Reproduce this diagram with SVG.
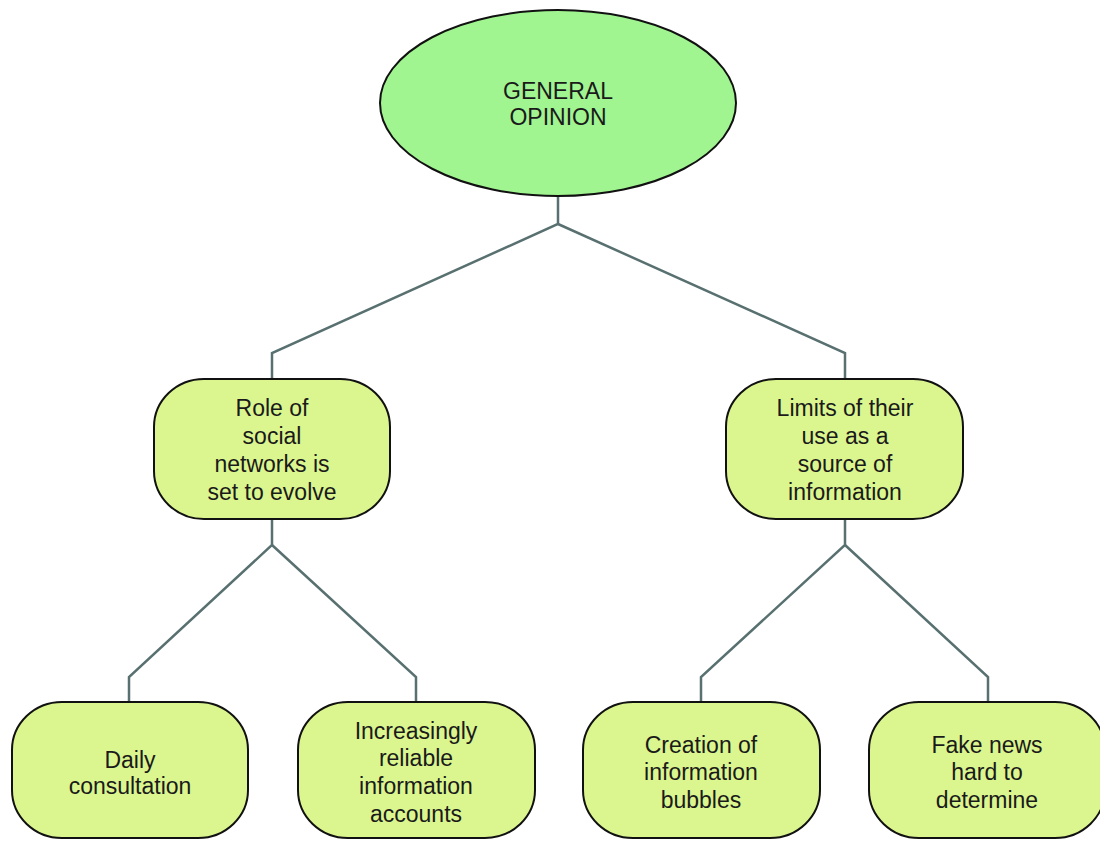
<svg xmlns="http://www.w3.org/2000/svg" width="1100" height="841" viewBox="0 0 1100 841">
<style>
.box{fill:#dbf68e;stroke:#111;stroke-width:2}
.root{fill:#a1f591;stroke:#111;stroke-width:2}
.t{font-family:"Liberation Sans",Arial,sans-serif;font-size:23px;fill:#1a1a1a;text-anchor:middle}
.c{fill:none;stroke:#587070;stroke-width:2.5}
</style>
<rect width="1100" height="841" fill="#fff"/>
<g id="connectors">
<polyline class="c" points="558,197 558,224 272,353 272,380"/>
<polyline class="c" points="558,224 845,353 845,380"/>
<polyline class="c" points="272,519 272,545 129,677 129,702"/>
<polyline class="c" points="272,545 416,677 416,702"/>
<polyline class="c" points="845,519 845,545 701,677 701,702"/>
<polyline class="c" points="845,545 988,677 988,702"/>
</g>
<g id="root">
<ellipse class="root" cx="558" cy="103" rx="178" ry="93"/>
<text class="t" x="558" y="99">GENERAL</text>
<text class="t" x="558" y="125">OPINION</text>
</g>
<g id="role">
<rect class="box" x="154" y="379" width="236" height="140" rx="50" ry="48"/>
<text class="t" x="272" y="416">Role of</text>
<text class="t" x="272" y="444">social</text>
<text class="t" x="272" y="472">networks is</text>
<text class="t" x="272" y="500">set to evolve</text>
</g>
<g id="limits">
<rect class="box" x="726" y="379" width="237" height="140" rx="50" ry="48"/>
<text class="t" x="845" y="416">Limits of their</text>
<text class="t" x="845" y="444">use as a</text>
<text class="t" x="845" y="472">source of</text>
<text class="t" x="845" y="500">information</text>
</g>
<g id="daily">
<rect class="box" x="12" y="702" width="236" height="136" rx="50" ry="48"/>
<text class="t" x="130" y="768">Daily</text>
<text class="t" x="130" y="794">consultation</text>
</g>
<g id="reliable">
<rect class="box" x="298" y="702" width="237" height="136" rx="50" ry="48"/>
<text class="t" x="416" y="739">Increasingly</text>
<text class="t" x="416" y="766">reliable</text>
<text class="t" x="416" y="794">information</text>
<text class="t" x="416" y="822">accounts</text>
</g>
<g id="bubbles">
<rect class="box" x="583" y="702" width="237" height="136" rx="50" ry="48"/>
<text class="t" x="701" y="753">Creation of</text>
<text class="t" x="701" y="780">information</text>
<text class="t" x="701" y="808">bubbles</text>
</g>
<g id="fake">
<rect class="box" x="869" y="702" width="236" height="136" rx="50" ry="48"/>
<text class="t" x="987" y="753">Fake news</text>
<text class="t" x="987" y="780">hard to</text>
<text class="t" x="987" y="808">determine</text>
</g>
</svg>
